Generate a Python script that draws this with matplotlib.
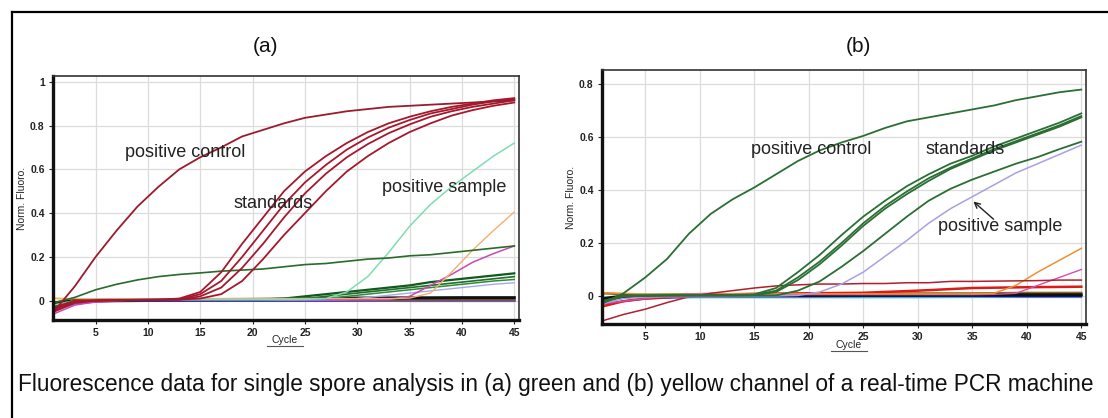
import matplotlib
matplotlib.use("Agg")
import matplotlib.pyplot as plt
from matplotlib.lines import Line2D
from matplotlib import font_manager

plt.rcParams['font.family'] = ['Liberation Sans', 'DejaVu Sans']

# ---------------- data ----------------
CYC = [1, 3, 5, 7, 9, 11, 13, 15, 17, 19, 21, 23, 25, 27, 29, 31, 33, 35, 37, 39, 41, 43, 45]
BASE_CYC = [1, 2, 3, 5, 10, 15, 20, 25, 30, 35, 40, 45]

# Panel (a) - green channel
A_POS_CONTROL = [-0.05, 0.065, 0.2, 0.32, 0.43, 0.52, 0.60, 0.655, 0.70, 0.75, 0.78, 0.81, 0.835,
                 0.85, 0.865, 0.875, 0.885, 0.89, 0.895, 0.90, 0.905, 0.91, 0.915]
A_STD1 = [-0.03, 0.0, 0.002, 0.003, 0.004, 0.005, 0.01, 0.04, 0.13, 0.26, 0.38, 0.50, 0.59,
          0.66, 0.72, 0.77, 0.81, 0.84, 0.865, 0.885, 0.90, 0.915, 0.925]
A_STD2 = [-0.04, 0.0, 0.002, 0.003, 0.004, 0.005, 0.006, 0.03, 0.09, 0.20, 0.32, 0.44, 0.54,
          0.62, 0.69, 0.745, 0.79, 0.825, 0.855, 0.875, 0.895, 0.91, 0.92]
A_STD3 = [-0.045, -0.005, 0.0, 0.002, 0.003, 0.004, 0.005, 0.02, 0.06, 0.15, 0.26, 0.38, 0.49,
          0.58, 0.655, 0.715, 0.765, 0.805, 0.84, 0.865, 0.885, 0.90, 0.915]
A_STD4 = [-0.05, -0.01, 0.0, 0.002, 0.003, 0.004, 0.005, 0.01, 0.03, 0.09, 0.19, 0.30, 0.40,
          0.50, 0.59, 0.66, 0.72, 0.77, 0.81, 0.845, 0.87, 0.89, 0.905]
A_POS_SAMPLE = [-0.02, 0.0, 0.003, 0.004, 0.004, 0.005, 0.005, 0.005, 0.005, 0.005, 0.005, 0.005,
                0.006, 0.01, 0.04, 0.11, 0.22, 0.34, 0.44, 0.52, 0.59, 0.66, 0.72]
A_SLOW_GREEN = [-0.01, 0.015, 0.05, 0.075, 0.095, 0.11, 0.12, 0.127, 0.135, 0.14, 0.145, 0.155,
                0.165, 0.17, 0.18, 0.19, 0.195, 0.205, 0.21, 0.22, 0.23, 0.24, 0.25]
A_ORANGE = [0.01, 0.01, 0.008, 0.008, 0.008, 0.008, 0.01, 0.01, 0.01, 0.01, 0.01, 0.01, 0.01,
            0.01, 0.01, 0.01, 0.01, 0.012, 0.035, 0.13, 0.23, 0.32, 0.405]
A_MAGENTA = [-0.06, -0.02, -0.005, 0.0, 0.004, 0.004, 0.004, 0.004, 0.004, 0.004, 0.004, 0.004,
             0.004, 0.004, 0.004, 0.004, 0.005, 0.02, 0.07, 0.12, 0.175, 0.215, 0.25]
A_GREEN2 = [-0.02, 0.0, 0.004, 0.004, 0.004, 0.005, 0.005, 0.005, 0.005, 0.005, 0.006, 0.01,
            0.02, 0.03, 0.04, 0.05, 0.06, 0.07, 0.085, 0.095, 0.105, 0.115, 0.125]
A_GREEN3 = [-0.02, 0.0, 0.003, 0.003, 0.003, 0.004, 0.004, 0.004, 0.004, 0.004, 0.005, 0.006,
            0.01, 0.02, 0.03, 0.04, 0.05, 0.06, 0.07, 0.08, 0.09, 0.10, 0.11]
A_GREEN4 = [-0.02, 0.0, 0.003, 0.003, 0.003, 0.003, 0.003, 0.003, 0.004, 0.004, 0.004, 0.005,
            0.006, 0.01, 0.02, 0.03, 0.04, 0.05, 0.06, 0.07, 0.08, 0.09, 0.097]
A_LAVENDER = [-0.03, -0.005, 0.0, 0.002, 0.002, 0.002, 0.002, 0.002, 0.002, 0.002, 0.002, 0.002,
              0.002, 0.003, 0.005, 0.015, 0.025, 0.035, 0.045, 0.055, 0.065, 0.075, 0.082]
# near-zero baseline traces (panel a), at BASE_CYC
A_BASE_NAVY = [-0.035, -0.015, -0.004, -0.002, 0.0, 0.0, 0.0, 0.0, 0.0, 0.0, 0.0, 0.0]
A_BASE_BLUE = [-0.02, -0.01, -0.004, -0.003, -0.002, -0.002, -0.002, -0.002, -0.002, -0.003, -0.003, -0.003]
A_BASE_BLACK = [-0.01, -0.004, 0.0, 0.002, 0.004, 0.005, 0.006, 0.008, 0.012, 0.013, 0.014, 0.014]
A_BASE_YELLOW = [0.012, 0.008, 0.005, 0.003, 0.003, 0.003, 0.003, 0.003, 0.002, 0.002, 0.002, 0.002]
A_BASE_PURPLE = [-0.05, -0.03, -0.015, -0.006, 0.005, 0.004, 0.003, 0.002, 0.002, 0.001, 0.001, 0.001]
A_BASE_BROWN = [-0.015, -0.006, 0.0, 0.002, 0.004, 0.005, 0.005, 0.006, 0.004, 0.004, 0.004, 0.004]

# Panel (b) - yellow channel
B_POS_CONTROL = [-0.03, 0.01, 0.07, 0.14, 0.235, 0.31, 0.365, 0.41, 0.46, 0.51, 0.55, 0.58, 0.605,
                 0.635, 0.66, 0.675, 0.69, 0.705, 0.72, 0.74, 0.755, 0.77, 0.78]
B_STD1 = [-0.02, 0.0, 0.002, 0.003, 0.004, 0.004, 0.004, 0.006, 0.03, 0.09, 0.155, 0.23, 0.30,
          0.36, 0.415, 0.46, 0.50, 0.53, 0.565, 0.595, 0.625, 0.655, 0.69]
B_STD2 = [-0.02, 0.0, 0.002, 0.003, 0.003, 0.003, 0.003, 0.004, 0.02, 0.07, 0.13, 0.20, 0.275,
          0.34, 0.395, 0.445, 0.485, 0.52, 0.555, 0.585, 0.615, 0.645, 0.68]
B_STD3 = [-0.025, 0.0, 0.002, 0.002, 0.002, 0.002, 0.002, 0.003, 0.015, 0.06, 0.12, 0.19, 0.265,
          0.33, 0.385, 0.435, 0.48, 0.515, 0.55, 0.58, 0.61, 0.64, 0.675]
B_STD4 = [-0.025, -0.002, 0.0, 0.001, 0.001, 0.001, 0.001, 0.001, 0.002, 0.02, 0.055, 0.11, 0.17,
          0.235, 0.30, 0.36, 0.405, 0.44, 0.47, 0.50, 0.525, 0.555, 0.583]
B_POS_SAMPLE = [-0.03, -0.01, -0.004, -0.003, -0.003, -0.003, -0.002, -0.001, 0.0, 0.002, 0.015,
                0.045, 0.09, 0.15, 0.21, 0.275, 0.33, 0.375, 0.42, 0.465, 0.50, 0.535, 0.57]
B_DRIFT_RED = [-0.095, -0.07, -0.05, -0.025, -0.003, 0.01, 0.02, 0.03, 0.038, 0.042, 0.045, 0.045,
               0.047, 0.047, 0.05, 0.05, 0.055, 0.055, 0.056, 0.057, 0.058, 0.06, 0.06]
B_ORANGE = [0.012, 0.01, 0.006, 0.006, 0.006, 0.007, 0.008, 0.008, 0.008, 0.008, 0.008, 0.008,
            0.008, 0.008, 0.008, 0.008, 0.008, 0.008, 0.01, 0.04, 0.09, 0.135, 0.18]
B_PINK = [-0.03, -0.02, -0.01, 0.0, 0.008, 0.01, 0.008, 0.006, 0.005, 0.005, 0.005, 0.005, 0.005,
          0.005, 0.005, 0.005, 0.005, 0.005, 0.006, 0.01, 0.04, 0.07, 0.10]
# near-zero baseline traces (panel b), at BASE_CYC
B_BASE_CYAN = [-0.006, -0.006, -0.006, -0.006, -0.006, -0.006, -0.006, -0.006, -0.006, -0.005, -0.005, -0.005]
B_BASE_PURPLE = [-0.03, -0.025, -0.02, -0.01, -0.003, -0.002, -0.002, -0.001, -0.001, -0.001, -0.002, -0.002]
B_BASE_BLACK = [-0.01, -0.005, 0.0, 0.002, 0.003, 0.003, 0.003, 0.004, 0.004, 0.005, 0.005, 0.005]
B_BASE_RED = [-0.04, -0.03, -0.02, -0.01, 0.004, 0.008, 0.01, 0.012, 0.02, 0.03, 0.033, 0.035]
B_BASE_OLIVE = [0.01, 0.008, 0.006, 0.005, 0.006, 0.007, 0.008, 0.009, 0.01, 0.01, 0.012, 0.012]
B_BASE_NAVY = [-0.015, -0.01, -0.005, -0.002, 0.0, 0.0, 0.0, 0.0, 0.0, 0.0, 0.0, 0.0]

# annotation positions (data coords)
A_LABELS = [("positive control", 13.6, 0.677), ("standards", 22.0, 0.443), ("positive sample", 38.3, 0.518)]
B_LABELS = [("positive control", 20.2, 0.552), ("standards", 34.3, 0.552), ("positive sample", 37.6, 0.262)]

TICKS_X = [5, 10, 15, 20, 25, 30, 35, 40, 45]
A_TICKS_Y = [0, 0.2, 0.4, 0.6, 0.8, 1.0]
A_TICKLABELS_Y = ["0", "0.2", "0.4", "0.6", "0.8", "1"]
B_TICKS_Y = [0, 0.2, 0.4, 0.6, 0.8]
B_TICKLABELS_Y = ["0", "0.2", "0.4", "0.6", "0.8"]

CAPTION = ("Fluorescence data for single spore analysis in (a) green and (b) yellow "
           "channel of a real-time PCR machine")

# ---------------- figure ----------------
W, H = 1108, 418
fig = plt.figure(figsize=(W / 100, H / 100), dpi=100)
fig.patch.set_facecolor("white")


def fx(px):
    return px / W


def fy(py):
    return 1 - py / H


ax_a = fig.add_axes([fx(53), fy(320), fx(519) - fx(53), fy(76) - fy(320)])
ax_b = fig.add_axes([fx(602), fy(324), fx(1086) - fx(602), fy(70) - fy(324)])


def style_axes(ax, xlim, ylim, yticks, yticklabels):
    ax.set_xlim(*xlim)
    ax.set_ylim(*ylim)
    ax.set_xticks(TICKS_X)
    ax.set_xticklabels([str(t) for t in TICKS_X])
    ax.set_yticks(yticks)
    ax.set_yticklabels(yticklabels)
    ax.grid(True, color="#dcdcdc", lw=0.9)
    ax.set_axisbelow(True)
    for s in ("left", "bottom"):
        ax.spines[s].set_linewidth(2.4)
        ax.spines[s].set_color("#111111")
    for s in ("top", "right"):
        ax.spines[s].set_linewidth(1.2)
        ax.spines[s].set_color("#333333")
    ax.tick_params(axis="both", length=3, width=0.8, pad=3, labelsize=7.5, colors="#222222")
    for lab in ax.get_xticklabels() + ax.get_yticklabels():
        lab.set_fontweight("bold")
    ax.set_ylabel("Norm. Fluoro.", fontsize=7.5, labelpad=2, color="#222222")


style_axes(ax_a, (0.93, 45.45), (-0.088, 1.026), A_TICKS_Y, A_TICKLABELS_Y)
style_axes(ax_b, (1.03, 45.43), (-0.106, 0.854), B_TICKS_Y, B_TICKLABELS_Y)

# ---- panel (a) ----
for vals, col, lw in [(A_BASE_NAVY, "#14146e", 1.8), (A_BASE_BLUE, "#3050e0", 1.0),
                      (A_BASE_YELLOW, "#e8d020", 1.2), (A_BASE_PURPLE, "#b040c0", 1.2),
                      (A_BASE_BROWN, "#7a5a30", 1.6), (A_BASE_BLACK, "#101010", 2.2)]:
    ax_a.plot(BASE_CYC, vals, color=col, lw=lw)

for vals, col, lw in [(A_LAVENDER, "#a8a8e8", 1.0), (A_GREEN4, "#2f8a3a", 1.1),
                      (A_GREEN3, "#1f6e2a", 1.2), (A_GREEN2, "#0f5a1c", 1.6),
                      (A_MAGENTA, "#c84ab0", 1.1), (A_ORANGE, "#f0b070", 1.0),
                      (A_POS_SAMPLE, "#80dcb4", 1.1), (A_SLOW_GREEN, "#2a6a2a", 1.2)]:
    ax_a.plot(CYC, vals, color=col, lw=lw)

for vals in [A_STD4, A_STD3, A_STD2, A_STD1]:
    ax_a.plot(CYC, vals, color="#a5182c", lw=1.3)
ax_a.plot(CYC, A_POS_CONTROL, color="#9a1c2c", lw=1.3)

for txt, cx, cy in A_LABELS:
    ax_a.text(cx, cy, txt, ha="center", va="center", fontsize=13, color="#222222")

# ---- panel (b) ----
for vals, col, lw in [(B_BASE_CYAN, "#30d0d8", 1.2), (B_BASE_PURPLE, "#7a20a8", 1.4),
                      (B_BASE_NAVY, "#14146e", 1.4), (B_BASE_OLIVE, "#8a6a20", 1.6),
                      (B_BASE_BLACK, "#101010", 2.0), (B_BASE_RED, "#e01818", 1.8)]:
    ax_b.plot(BASE_CYC, vals, color=col, lw=lw)

for vals, col, lw in [(B_PINK, "#d050b0", 1.0), (B_ORANGE, "#f09030", 1.1),
                      (B_DRIFT_RED, "#b0202c", 1.1), (B_POS_SAMPLE, "#a8a0e4", 1.1)]:
    ax_b.plot(CYC, vals, color=col, lw=lw)

for vals in [B_STD4, B_STD3, B_STD2, B_STD1]:
    ax_b.plot(CYC, vals, color="#2a6e34", lw=1.3)
ax_b.plot(CYC, B_POS_CONTROL, color="#2a6e34", lw=1.3)

for txt, cx, cy in B_LABELS:
    ax_b.text(cx, cy, txt, ha="center", va="center", fontsize=13, color="#222222")
ax_b.annotate("", xy=(35.1, 0.357), xytext=(36.95, 0.29),
              arrowprops=dict(arrowstyle="->", color="#222222", lw=1.0, shrinkA=0, shrinkB=0))

# ---- titles, Cycle labels ----
fig.text(fx(265), fy(47), "(a)", ha="center", va="center", fontsize=15, color="#111111")
fig.text(fx(858), fy(46), "(b)", ha="center", va="center", fontsize=15, color="#111111")

fig.text(fx(285), fy(340), "Cycle", ha="center", va="center", fontsize=7.5, color="#222222")
fig.add_artist(Line2D([fx(267), fx(303)], [fy(346), fy(346)], color="#555555", lw=0.8))
fig.text(fx(849), fy(345), "Cycle", ha="center", va="center", fontsize=7.5, color="#222222")
fig.add_artist(Line2D([fx(831), fx(867)], [fy(351), fy(351)], color="#555555", lw=0.8))

# ---- caption (fit to measured width) ----
try:
    font_manager.findfont("Liberation Sans Narrow", fallback_to_default=False)
    cap_family = ["Liberation Sans Narrow", "Liberation Sans"]
except Exception:
    cap_family = ["Liberation Sans", "DejaVu Sans"]
cap = fig.text(fx(18), fy(385), CAPTION, ha="left", va="center", fontsize=14,
               family=cap_family, color="#111111")
renderer = fig.canvas.get_renderer()
bb = cap.get_window_extent(renderer)
cap.set_fontsize(14 * (1082 / bb.width))

# ---- outer frame lines ----
fig.add_artist(Line2D([fx(12), 1.0], [fy(12), fy(12)], color="black", lw=1.6))
fig.add_artist(Line2D([fx(12), fx(12)], [fy(12), 0.0], color="black", lw=1.6))

fig.savefig("out.png", dpi=100, facecolor="white")
